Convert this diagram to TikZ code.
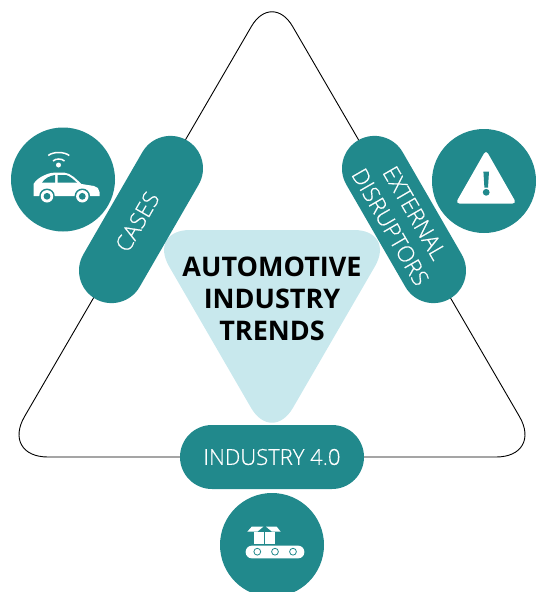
\documentclass[tikz,border=0pt]{standalone}
\usepackage{fontspec}
\setmainfont{Open Sans}
\newfontfamily\lightfont[FakeBold=0.45]{Open Sans Light}
\usetikzlibrary{shapes.misc}
\definecolor{teal1}{HTML}{21898C}
\definecolor{ice1}{HTML}{C8E8ED}
\begin{document}
\begin{tikzpicture}[x=1pt,y=-1pt,
	pillbox/.style={rounded rectangle,fill=teal1,text=white,minimum height=65pt,minimum width=183pt,inner sep=0pt,align=center,font=\lightfont\fontsize{22}{24}\selectfont},
	pilltext/.style={text=white,inner sep=0pt,align=center,font=\lightfont\fontsize{22.5}{28}\selectfont},
	iconcircle/.style={circle,fill=teal1,minimum size=104pt,inner sep=0pt},
	iconpart/.style={fill=white,draw=none}]
	\useasboundingbox (0,0) rectangle (537,592);
	\clip (0,0) rectangle (537,592);
	% outer triangle
	\draw[line width=0.9pt] (136.5,224) [rounded corners=41pt] -- (272,-9) [rounded corners=47pt] -- (543,457) -- (1,457) [sharp corners] -- cycle;
	% centre
	\fill[ice1,rounded corners=42pt] (148,230) -- (396,230) -- (272,444) -- cycle;
	\node[font=\bfseries\fontsize{27}{32}\selectfont,align=center] (trends) at (272,299) {AUTOMOTIVE\\INDUSTRY\\TRENDS};
	% pills
	\node[pillbox,rotate=60] (cases) at (141,219.5) {};
	\node[pilltext,rotate=60] (caseslabel) at (137.3,221.7) {CASES};
	\node[pillbox,rotate=-60] (disruptors) at (404,219.5) {};
	\node[pilltext,rotate=-60] (disruptorslabel) at (402.5,220) {EXTERNAL\\DISRUPTORS};
	\node[pillbox,minimum width=184pt,minimum height=64pt] (industry) at (272,457) {INDUSTRY 4.0};
	% circles
	\node[iconcircle] (carcircle) at (63,179.5) {};
	\node[iconcircle] (warncircle) at (484,181) {};
	\node[iconcircle] (beltcircle) at (272,545) {};
	% car
	\fill[iconpart] (33.5,196) -- (33.5,184) .. controls (36,180) and (40,177) .. (45,175) .. controls (49,173) and (53,172.5) .. (58,172.5) -- (64,172.5) .. controls (71,173) and (77,180) .. (81.5,184) -- (94,186) .. controls (97,186.5) and (99.5,189) .. (99.5,192) -- (99.5,196) -- cycle;
	\fill[teal1] (42,182.7) .. controls (44,179) and (50,175.5) .. (55,175) -- (55,182.7) -- cycle;
	\fill[teal1] (57.5,175) -- (66,175) .. controls (70,176) and (74,180) .. (77,182.7) -- (57.5,182.7) -- cycle;
	\foreach \wx in {47,82.3}{
		\fill[teal1] (\wx,196.3) circle (7.8pt);
		\fill[white] (\wx,196.3) circle (6.2pt);
		\fill[teal1] (\wx,196.3) circle (3.4pt);
	}
	\fill[white] (58.5,165) circle (2.5pt);
	\draw[white,line width=1.5pt] (53,161) .. controls (56,158.3) and (61.5,158.3) .. (64.5,161);
	\draw[white,line width=1.5pt] (48.3,155.5) .. controls (53,151.5) and (64,151.5) .. (69.3,155.5);
	% warning sign
	\fill[iconpart,rounded corners=4pt] (486,150) -- (516.5,203.5) -- (455.5,203.5) -- cycle;
	\fill[teal1] (483.4,171.7) -- (489,171.7) -- (488,187.5) -- (484.4,187.5) -- cycle;
	\fill[teal1] (486.2,192.3) circle (3.4pt);
	% conveyor
	\fill[iconpart,rounded corners=6pt] (245.7,545.7) rectangle (304.3,558.3);
	\foreach \bx in {257.3,275,293}{
		\draw[teal1,line width=0.8pt] (\bx,551.7) circle (3.4pt);
	}
	\fill[iconpart] (254.3,531.7) rectangle (275,544.3);
	\fill[iconpart] (247.3,531.7) -- (251.7,526.7) -- (263.3,526.7) -- (257.3,531.7) -- cycle;
	\fill[iconpart] (280.7,531.7) -- (276.7,526.7) -- (266,526.7) -- (272,531.7) -- cycle;
	\draw[teal1,line width=0.7pt] (264.7,528) -- (264.7,544.3);
\end{tikzpicture}
\end{document}
